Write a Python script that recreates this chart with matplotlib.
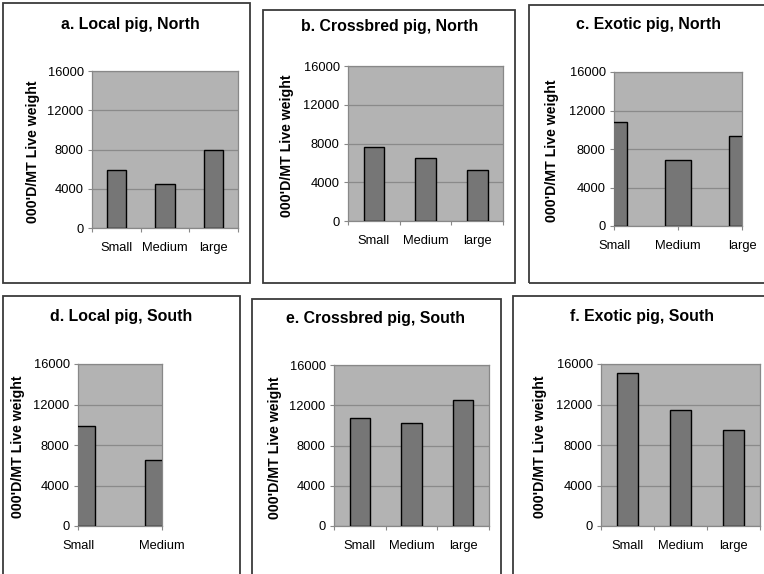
import numpy as np
import matplotlib
matplotlib.use('Agg')
import matplotlib.pyplot as plt
from matplotlib.patches import Rectangle

# values (000'D/MT live weight)
sizes = ['Small', 'Medium', 'large']
local_north = [5900, 4500, 7900]
crossbred_north = [7600, 6500, 5300]
exotic_north = [10850, 6850, 9300]
local_south_sizes = ['Small', 'Medium']
local_south = [9850, 6500]
crossbred_south = [10700, 10200, 12500]
exotic_south = [15100, 11500, 9500]

W, H = 764, 574


def fx(x):
    return x / W


def fy(y):
    return 1 - y / H


def panel(fig, title, cats, vals, frame, plot, title_xy, ylab_x, edge_bars=False):
    # frame box around the panel
    x0, y0, x1, y1 = frame
    fig.patches.append(Rectangle((fx(x0), fy(y1)), fx(x1 - x0), (y1 - y0) / H,
                                 transform=fig.transFigure, fill=False,
                                 edgecolor='#3a3a3a', linewidth=1.3))
    fig.text(fx(title_xy[0]), fy(title_xy[1]), title, ha='center', va='center',
             fontsize=11.4, fontweight='bold')

    px0, py0, px1, py1 = plot
    ax = fig.add_axes([fx(px0), fy(py1), fx(px1 - px0), (py1 - py0) / H])
    ax.set_facecolor('#b3b3b3')
    x = np.arange(len(cats))
    ax.bar(x, vals, width=0.4, color='#767676', edgecolor='black', linewidth=1.0,
           zorder=3)
    ax.set_ylim(0, 16000)
    ax.set_yticks([0, 4000, 8000, 12000, 16000])
    ax.grid(axis='y', color='#8a8a8a', linewidth=0.9, zorder=0)
    if edge_bars:
        # first and last bar sit on the plot edges
        ax.set_xlim(0, len(cats) - 1)
        ax.set_xticks(x)
        ax.set_xticklabels(cats)
        ax.tick_params(axis='x', which='major', pad=7)
    else:
        ax.set_xlim(-0.5, len(cats) - 0.5)
        ax.set_xticks(np.arange(len(cats) + 1) - 0.5)
        ax.set_xticklabels([])
        ax.set_xticks(x, minor=True)
        ax.set_xticklabels(cats, minor=True)
        ax.tick_params(axis='x', which='minor', length=0, pad=10)
    for s in ax.spines.values():
        s.set_color('#888888')
        s.set_linewidth(0.9)
    ax.tick_params(axis='x', which='major', length=3, color='#888888')
    ax.tick_params(axis='y', length=3, color='#888888', pad=3)
    ax.tick_params(which='both', labelsize=9.3)
    fig.text(fx(ylab_x), fy((py0 + py1) / 2 + 2), "000'D/MT Live weight",
             rotation=90, ha='center', va='center', fontsize=10.2, fontweight='bold')
    return ax


def main():
    plt.rcParams['font.family'] = ['Liberation Sans', 'DejaVu Sans']
    fig = plt.figure(figsize=(W / 100, H / 100), dpi=100)

    panel(fig, 'a. Local pig, North', sizes, local_north,
          (3, 3, 250, 283), (92, 71, 238, 228), (130, 24), 33)
    panel(fig, 'b. Crossbred pig, North', sizes, crossbred_north,
          (263, 10, 515, 283), (348, 66, 503, 221), (390, 26), 287)
    panel(fig, 'c. Exotic pig, North', sizes, exotic_north,
          (529, 5, 775, 283), (614, 72, 742, 226), (648, 25), 552, edge_bars=True)
    panel(fig, 'd. Local pig, South', local_south_sizes, local_south,
          (3, 296, 240, 585), (78, 364, 162, 526), (121, 316), 18, edge_bars=True)
    panel(fig, 'e. Crossbred pig, South', sizes, crossbred_south,
          (252, 299, 501, 585), (334, 365, 489, 526), (376, 318), 275)
    panel(fig, 'f. Exotic pig, South', sizes, exotic_south,
          (513, 296, 775, 585), (601, 364, 760, 526), (642, 316), 540)

    fig.savefig('out.png', dpi=100)
    plt.close(fig)


if __name__ == '__main__':
    main()
